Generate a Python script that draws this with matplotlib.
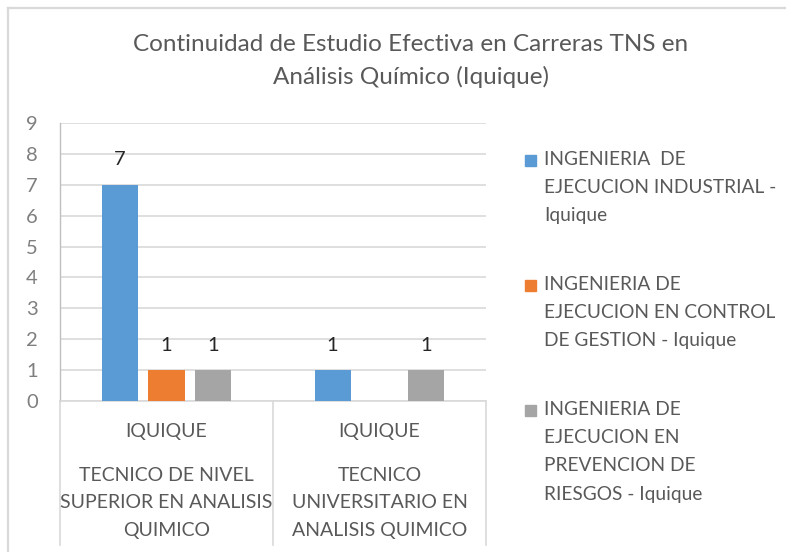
import matplotlib
matplotlib.use("Agg")
import matplotlib.pyplot as plt
import numpy as np
from matplotlib.transforms import blended_transform_factory
from matplotlib.lines import Line2D
from matplotlib.patches import Rectangle

plt.rcParams['font.family'] = ['Lato', 'DejaVu Sans']

title = "Continuidad de Estudio Efectiva en Carreras TNS en\nAnálisis Químico (Iquique)"
cities = ["IQUIQUE", "IQUIQUE"]
programs = ["TECNICO DE NIVEL\nSUPERIOR EN ANALISIS\nQUIMICO",
            "TECNICO\nUNIVERSITARIO EN\nANALISIS QUIMICO"]
series_names = ["INGENIERIA  DE\nEJECUCION INDUSTRIAL -\nIquique",
                "INGENIERIA DE\nEJECUCION EN CONTROL\nDE GESTION - Iquique",
                "INGENIERIA DE\nEJECUCION EN\nPREVENCION DE\nRIESGOS - Iquique"]
industrial = [7, 1]
control_gestion = [1, 0]
prevencion = [1, 1]
colors = ["#5B9BD5", "#ED7D31", "#A5A5A5"]
yticks = list(range(0, 10))

W, H = 786, 552
fig = plt.figure(figsize=(W / 100, H / 100), dpi=100)
ax = fig.add_axes([60 / W, 1 - 401 / H, (486 - 60) / W, (401 - 123) / H])

x = np.arange(len(cities))
width = 0.17
offs = [-0.22, 0.0, 0.22]
series = [industrial, control_gestion, prevencion]
for i, (vals, c) in enumerate(zip(series, colors)):
    for xi, v in zip(x, vals):
        if v > 0:
            ax.bar(xi + offs[i], v, width, color=c, zorder=3)
            ax.annotate(str(v), (xi + offs[i], v), xytext=(0, 18),
                        textcoords="offset points", ha="center", va="center",
                        fontsize=14.5, color="#262626")

ax.set_xlim(-0.5, len(cities) - 0.5)
ax.set_ylim(0, 9)
ax.set_yticks(yticks)
ax.set_yticklabels([str(t) for t in yticks], fontsize=14.5, color="#7F7F7F")
ax.tick_params(axis="y", length=0, pad=16)
ax.set_xticks([])
ax.grid(axis="y", color="#D9D9D9", linewidth=1.2, zorder=0)
for s in ["top", "right"]:
    ax.spines[s].set_visible(False)
ax.spines["left"].set_color("#BFBFBF")
ax.spines["left"].set_linewidth(1.0)
ax.spines["bottom"].set_color("#D9D9D9")
ax.spines["bottom"].set_linewidth(1.2)

# category separators
tr = blended_transform_factory(ax.transData, ax.transAxes)
ybot = -(545 - 401) / (401 - 123)
for b in np.arange(len(cities) + 1) - 0.5:
    ax.add_line(Line2D([b, b], [0, ybot], transform=tr, color="#D9D9D9",
                       linewidth=1.2, clip_on=False))

trf = blended_transform_factory(ax.transData, fig.transFigure)
for xi, c, p in zip(x, cities, programs):
    fig.text(xi, 1 - 432 / H, c, transform=trf, ha="center", va="center",
             fontsize=14, color="#595959")
    fig.text(xi, 1 - 503 / H, p, transform=trf, ha="center", va="center",
             fontsize=14, color="#595959", linespacing=1.72)

fig.text(411 / W, 1 - 61 / H, title, ha="center", va="center", fontsize=17.5,
         color="#595959", linespacing=1.58)

# legend
leg_y = [160, 285, 410]
for name, c, yy in zip(series_names, colors, leg_y):
    fig.patches.append(Rectangle((525 / W, 1 - (yy + 5.5) / H), 11 / W, 11 / H,
                                 transform=fig.transFigure, color=c))
    fig.text(544 / W, 1 - (yy - 9) / H, name, ha="left", va="top",
             fontsize=13.8, color="#595959", linespacing=1.8)

# chart border
fig.add_artist(Line2D([7.5 / W, 1], [1 - 7.5 / H, 1 - 7.5 / H],
                      transform=fig.transFigure, color="#D9D9D9", linewidth=1.6))
fig.add_artist(Line2D([7.5 / W, 7.5 / W], [0, 1 - 7.5 / H],
                      transform=fig.transFigure, color="#D9D9D9", linewidth=1.6))

fig.savefig("out.png", dpi=100, facecolor="white")
